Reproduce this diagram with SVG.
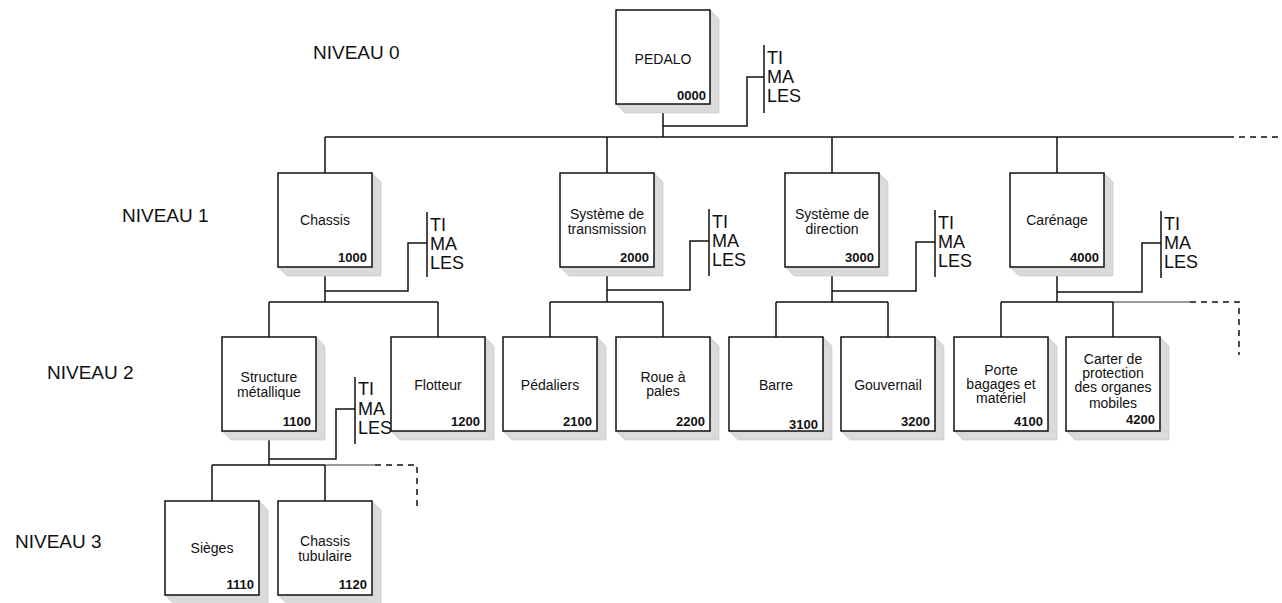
<svg xmlns="http://www.w3.org/2000/svg" width="1282" height="603" viewBox="0 0 1282 603">
<style>
text{font-family:"Liberation Sans",Arial,sans-serif;fill:#111}
.lbl{font-size:14px;text-anchor:middle}
.code{font-size:13px;font-weight:bold;text-anchor:end}
.lvl{font-size:19px}
.ti{font-size:18px}
.sh{fill:#dadada;stroke:#c4c4c4;stroke-width:0.6}
.bx{fill:#fff;stroke:#111;stroke-width:1.5}
.ln{fill:none;stroke:#111;stroke-width:1.5}
.thin{fill:none;stroke:#333;stroke-width:1}
.ds{fill:none;stroke:#111;stroke-width:1.5;stroke-dasharray:6 5}
</style>
<defs>
<g id="box">
<polygon class="sh" points="94,0 103,9 103,103 9,103 0,94 94,94"/>
<rect class="bx" x="0" y="0" width="94" height="94"/>
</g>
</defs>
<rect width="1282" height="603" fill="#fff"/>
<g id="levels">
<text class="lvl" x="313" y="59">NIVEAU 0</text>
<text class="lvl" x="122" y="222">NIVEAU 1</text>
<text class="lvl" x="47" y="379">NIVEAU 2</text>
<text class="lvl" x="15" y="548">NIVEAU 3</text>
</g>
<g id="connectors">
<path class="ln" d="M663,104V137M325,137H1228M325,137V173M607,137V173M832,137V173M1057,137V173"/>
<path class="ds" d="M1228,137H1282"/>
<path class="ln" d="M663,126H747V77H764M764,45V113"/>
<path class="ln" d="M325,267V302M269,302H438M269,302V337M438,302V337"/>
<path class="ln" d="M325,291H408V243H427M427,212V277"/>
<path class="ln" d="M607,267V302M550,302H663M550,302V337M663,302V337"/>
<path class="ln" d="M607,290H690V241H709M709,209V276"/>
<path class="ln" d="M832,267V302M776,302H888M776,302V337M888,302V337"/>
<path class="ln" d="M832,291H916V242H935M935,210V277"/>
<path class="ln" d="M1057,267V302M1001,302H1113M1001,302V337M1113,302V337"/>
<path class="thin" d="M1113,302H1190"/>
<path class="ds" d="M1190,302H1239V355"/>
<path class="ln" d="M1057,292H1142V243H1161M1161,211V278"/>
<path class="ln" d="M269,431V465M212,465H325M212,465V501M325,465V501"/>
<path class="thin" d="M325,465H375"/>
<path class="ds" d="M375,465H417V507"/>
<path class="ln" d="M269,459H336V409H355M355,377V444"/>
</g>
<g id="ti-labels">
<g class="ti"><text x="767" y="64">TI</text><text x="767" y="83">MA</text><text x="767" y="102">LES</text></g>
<g class="ti"><text x="430" y="231">TI</text><text x="430" y="250">MA</text><text x="430" y="269">LES</text></g>
<g class="ti"><text x="712" y="228">TI</text><text x="712" y="247">MA</text><text x="712" y="266">LES</text></g>
<g class="ti"><text x="938" y="229">TI</text><text x="938" y="248">MA</text><text x="938" y="267">LES</text></g>
<g class="ti"><text x="1164" y="230">TI</text><text x="1164" y="249">MA</text><text x="1164" y="268">LES</text></g>
<g class="ti"><text x="358" y="395">TI</text><text x="358" y="415">MA</text><text x="358" y="434">LES</text></g>
</g>
<g id="n0000" transform="translate(616,10)"><use href="#box"/><text class="lbl" x="47" y="54">PEDALO</text><text class="code" x="90" y="90">0000</text></g>
<g id="n1000" transform="translate(278,173)"><use href="#box"/><text class="lbl" x="47" y="52">Chassis</text><text class="code" x="89" y="89">1000</text></g>
<g id="n2000" transform="translate(560,173)"><use href="#box"/><text class="lbl" x="47" y="46">Système de</text><text class="lbl" x="47" y="61">transmission</text><text class="code" x="89" y="89">2000</text></g>
<g id="n3000" transform="translate(785,173)"><use href="#box"/><text class="lbl" x="47" y="46">Système de</text><text class="lbl" x="47" y="61">direction</text><text class="code" x="89" y="89">3000</text></g>
<g id="n4000" transform="translate(1010,173)"><use href="#box"/><text class="lbl" x="47" y="52">Carénage</text><text class="code" x="89" y="89">4000</text></g>
<g id="n1100" transform="translate(222,337)"><use href="#box"/><text class="lbl" x="47" y="45">Structure</text><text class="lbl" x="47" y="60">métallique</text><text class="code" x="89" y="89">1100</text></g>
<g id="n1200" transform="translate(391,337)"><use href="#box"/><text class="lbl" x="47" y="53">Flotteur</text><text class="code" x="89" y="89">1200</text></g>
<g id="n2100" transform="translate(503,337)"><use href="#box"/><text class="lbl" x="47" y="53">Pédaliers</text><text class="code" x="89" y="89">2100</text></g>
<g id="n2200" transform="translate(616,337)"><use href="#box"/><text class="lbl" x="47" y="45">Roue à</text><text class="lbl" x="47" y="59">pales</text><text class="code" x="89" y="89">2200</text></g>
<g id="n3100" transform="translate(729,337)"><use href="#box"/><text class="lbl" x="47" y="53">Barre</text><text class="code" x="89" y="92">3100</text></g>
<g id="n3200" transform="translate(841,337)"><use href="#box"/><text class="lbl" x="47" y="53">Gouvernail</text><text class="code" x="89" y="89">3200</text></g>
<g id="n4100" transform="translate(954,337)"><use href="#box"/><text class="lbl" x="47" y="38">Porte</text><text class="lbl" x="47" y="52">bagages et</text><text class="lbl" x="47" y="66">matériel</text><text class="code" x="89" y="89">4100</text></g>
<g id="n4200" transform="translate(1066,337)"><use href="#box"/><text class="lbl" x="47" y="27">Carter de</text><text class="lbl" x="47" y="41">protection</text><text class="lbl" x="47" y="55">des organes</text><text class="lbl" x="47" y="71">mobiles</text><text class="code" x="89" y="87">4200</text></g>
<g id="n1110" transform="translate(165,501)"><use href="#box"/><text class="lbl" x="47" y="52">Sièges</text><text class="code" x="89" y="88">1110</text></g>
<g id="n1120" transform="translate(278,501)"><use href="#box"/><text class="lbl" x="47" y="45">Chassis</text><text class="lbl" x="47" y="60">tubulaire</text><text class="code" x="89" y="88">1120</text></g>
</svg>
